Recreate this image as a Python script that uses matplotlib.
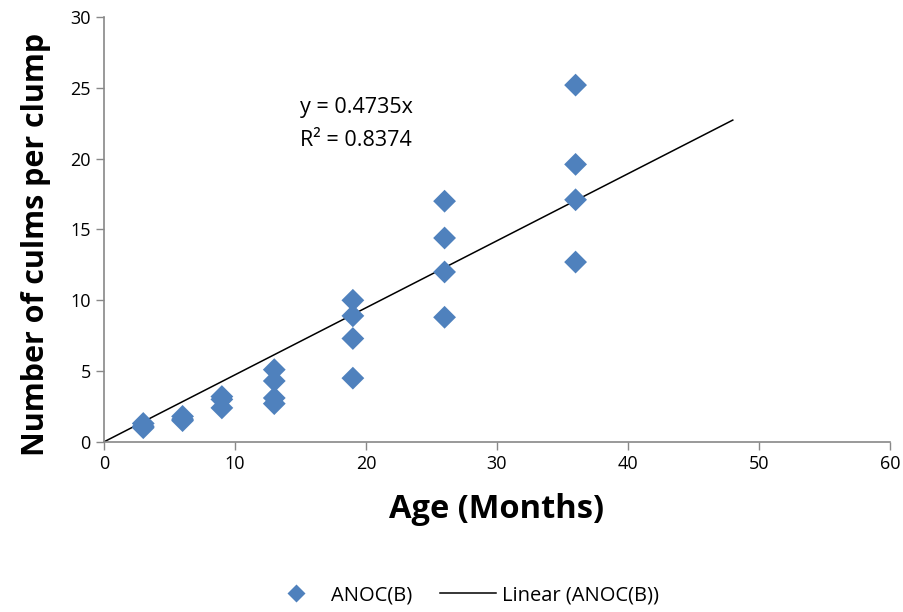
import numpy as np
import matplotlib
matplotlib.use("Agg")
import matplotlib.pyplot as plt
from matplotlib.lines import Line2D

# Data
age = [3, 3, 3, 6, 6, 6, 9, 9, 9, 13, 13, 13, 13, 19, 19, 19, 19, 26, 26, 26, 26, 36, 36, 36, 36]
culms = [1.3, 1.0, 1.1, 1.8, 1.6, 1.5, 3.2, 3.0, 2.4, 5.1, 4.3, 3.1, 2.7,
         10.0, 8.9, 7.3, 4.5, 17.0, 14.4, 12.0, 8.8, 25.2, 19.6, 17.1, 12.7]
slope = 0.4735
r2 = 0.8374
trend_x = [0, 48]

plt.rcParams["font.family"] = ["Open Sans", "DejaVu Sans"]

fig = plt.figure(figsize=(9.04, 6.12), dpi=100)
ax = fig.add_axes([0.115, 0.278, 0.8695, 0.694])

blue = "#4F81BD"
ax.scatter(age, culms, marker="D", s=135, color=blue, edgecolors="none", zorder=3)
tx = np.array(trend_x)
ax.plot(tx, slope * tx, color="black", lw=1.1, zorder=2)

ax.text(15, 23.6, f"y = {slope}x", fontsize=15.5, va="center")
ax.text(15, 21.3, f"R² = {r2}", fontsize=15.5, va="center")

ax.set_xlim(0, 60)
ax.set_ylim(0, 30)
ax.set_xticks(range(0, 61, 10))
ax.set_yticks(range(0, 31, 5))
ax.tick_params(labelsize=13, color="#888888", length=6, width=1)
for s in ["top", "right"]:
    ax.spines[s].set_visible(False)
for s in ["left", "bottom"]:
    ax.spines[s].set_color("#888888")
    ax.spines[s].set_linewidth(1.2)

ax.set_xlabel("Age (Months)", fontsize=23.5, fontweight="bold", labelpad=14)
ax.set_ylabel("Number of culms per clump", fontsize=22, fontweight="bold")
ax.yaxis.set_label_coords(-0.067, 0.465)

handles = [
    Line2D([], [], marker="D", ls="none", color=blue, markersize=9, markeredgecolor="none"),
    Line2D([], [], color="black", lw=1.1),
]
fig.legend(handles, ["ANOC(B)", "Linear (ANOC(B))"], loc="center", bbox_to_anchor=(0.513, 0.027),
           ncol=2, frameon=False, fontsize=14.5, handlelength=2.8, handletextpad=0.3,
           columnspacing=1.4)

fig.savefig("out.png", dpi=100)
